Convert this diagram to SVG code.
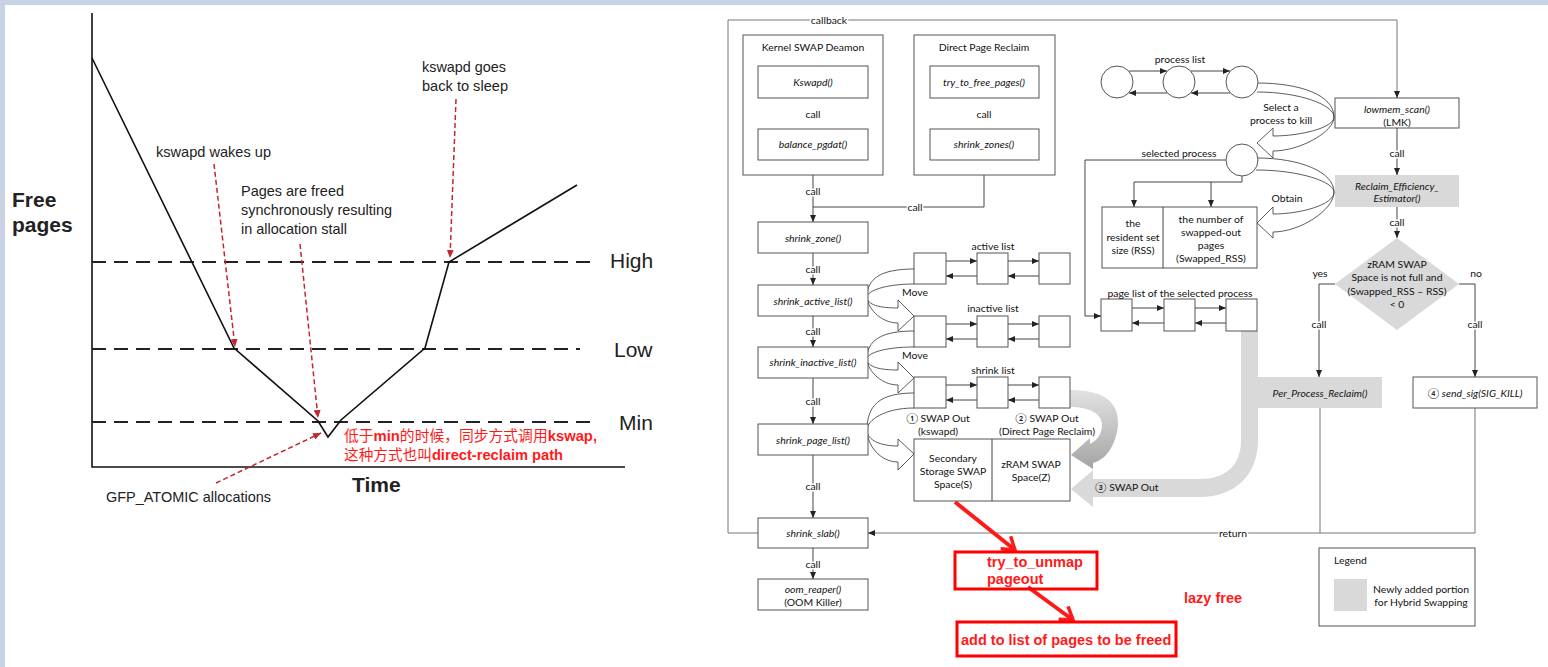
<svg xmlns="http://www.w3.org/2000/svg" width="1548" height="667" viewBox="0 0 1548 667">
<defs>
<style>
.ax{stroke:#111;stroke-width:1.6;fill:none}
.dash{stroke:#222;stroke-width:2;stroke-dasharray:14 8;fill:none}
.rd{stroke:#c0282e;stroke-width:1.5;stroke-dasharray:5 3;fill:none}
.lt{font-family:"Liberation Sans",Arial,sans-serif;fill:#222}
.box{fill:#fff;stroke:#555;stroke-width:1}
.gbox{fill:#d9d9d9}
.ln{stroke:#444;stroke-width:1;fill:none}
.gl{stroke:#777;stroke-width:1;fill:none}
.bl{fill:none;stroke:#333;stroke-width:0.8}
.t{font-family:Lato,"DejaVu Sans",sans-serif;font-size:10.4px;fill:#111;text-anchor:middle}
.s{text-anchor:start}
.i{font-style:italic}
.halo{stroke:#fff;stroke-width:3;paint-order:stroke;stroke-linejoin:round}
.red{font-family:"Liberation Sans",Arial,sans-serif;font-weight:bold;font-size:14.5px;fill:#ff1a1a}
.rb{fill:none;stroke:#ff0000;stroke-width:3}
.ra{stroke:#ff1a1a;stroke-width:4;fill:none}
</style>
<marker id="ah" markerWidth="7" markerHeight="6" refX="7" refY="3" orient="auto" markerUnits="userSpaceOnUse"><path d="M0,0 L7,3 L0,6 z" fill="#222"/></marker>
<marker id="rah" markerWidth="8" markerHeight="7" refX="8" refY="3.5" orient="auto" markerUnits="userSpaceOnUse"><path d="M0,0 L8,3.5 L0,7 z" fill="#c0282e"/></marker>
<marker id="rch" markerWidth="16" markerHeight="18" refX="14" refY="9" orient="auto" markerUnits="userSpaceOnUse"><path d="M2,1 L14,9 L2,17" fill="none" stroke="#ff1a1a" stroke-width="3.5"/></marker>
<linearGradient id="gg" x1="0" y1="0" x2="0" y2="1"><stop offset="0" stop-color="#e2e2e2"/><stop offset="1" stop-color="#a4a4a4"/></linearGradient>
</defs>
<rect x="0" y="0" width="1548" height="667" fill="#fff"/>
<rect x="0" y="0" width="1548" height="5" fill="#c8d2e2"/>
<rect x="0" y="0" width="5" height="667" fill="#c8d2e2"/>

<!-- LEFT CHART -->
<g id="chart">
<path class="ax" d="M92,13 L92,467 L625,467"/>
<path class="dash" d="M92,262 L590,262"/>
<path class="dash" d="M92,349 L580,349"/>
<path class="dash" d="M92,422 L590,422"/>
<path d="M92,58 L234,348 L318,421 L328,437 L341,420 L425,348 L449,262 L577,185" fill="none" stroke="#111" stroke-width="1.6"/>
<path class="rd" d="M214,164 L235,347" marker-end="url(#rah)"/>
<path class="rd" d="M300,244 L318,418" marker-end="url(#rah)"/>
<path class="rd" d="M456,99 L450,258" marker-end="url(#rah)"/>
<path class="rd" d="M216,483 L321,433" marker-end="url(#rah)"/>
<text class="lt" x="12" y="207" font-size="21" font-weight="bold" fill="#111">Free</text>
<text class="lt" x="12" y="232" font-size="21" font-weight="bold" fill="#111">pages</text>
<text class="lt" x="352" y="492" font-size="21" font-weight="bold" fill="#111">Time</text>
<text class="lt" x="610" y="268" font-size="21">High</text>
<text class="lt" x="614" y="357" font-size="21">Low</text>
<text class="lt" x="619" y="430" font-size="21">Min</text>
<text class="lt" x="156" y="157" font-size="15" textLength="115" lengthAdjust="spacingAndGlyphs">kswapd wakes up</text>
<text class="lt" x="422" y="72" font-size="15" textLength="84" lengthAdjust="spacingAndGlyphs">kswapd goes</text>
<text class="lt" x="422" y="91" font-size="15" textLength="86" lengthAdjust="spacingAndGlyphs">back to sleep</text>
<text class="lt" x="241" y="196" font-size="15" textLength="103" lengthAdjust="spacingAndGlyphs">Pages are freed</text>
<text class="lt" x="241" y="215" font-size="15" textLength="151" lengthAdjust="spacingAndGlyphs">synchronously resulting</text>
<text class="lt" x="241" y="234" font-size="15" textLength="106" lengthAdjust="spacingAndGlyphs">in allocation stall</text>
<text class="lt" x="106" y="502" font-size="15" textLength="165" lengthAdjust="spacingAndGlyphs">GFP_ATOMIC allocations</text>
<text x="344" y="441" font-size="15" fill="#ff1a1a" font-family="'Liberation Sans','Noto Sans CJK SC',sans-serif" textLength="253" lengthAdjust="spacingAndGlyphs">低于<tspan font-weight="bold">min</tspan>的时候，同步方式调用<tspan font-weight="bold">kswap,</tspan></text>
<text x="344" y="460" font-size="15" fill="#ff1a1a" font-family="'Liberation Sans','Noto Sans CJK SC',sans-serif" textLength="219" lengthAdjust="spacingAndGlyphs">这种方式也叫<tspan font-weight="bold">direct-reclaim path</tspan></text>
</g>

<!-- RIGHT DIAGRAM: connectors -->
<g id="connectors">
<path class="gl" d="M758,533 L728,533 L728,20 L1397,20 L1397,98" marker-end="url(#ah)"/>
<path class="ln" d="M813,98 L813,129" marker-end="url(#ah)"/>
<path class="ln" d="M984,98 L984,129" marker-end="url(#ah)"/>
<path class="ln" d="M813,160 L813,222" marker-end="url(#ah)"/>
<path class="ln" d="M984,160 L984,207 L813,207"/>
<path class="ln" d="M813,253 L813,285" marker-end="url(#ah)"/>
<path class="ln" d="M813,316 L813,347" marker-end="url(#ah)"/>
<path class="ln" d="M813,378 L813,424" marker-end="url(#ah)"/>
<path class="ln" d="M813,455 L813,518" marker-end="url(#ah)"/>
<path class="ln" d="M813,548 L813,579" marker-end="url(#ah)"/>
<!-- lists -->
<path class="ln" d="M946,261 L977,261" marker-end="url(#ah)"/>
<path class="ln" d="M1008,261 L1039,261" marker-end="url(#ah)"/>
<path class="ln" d="M977,276 L946,276" marker-end="url(#ah)"/>
<path class="ln" d="M1039,276 L1008,276" marker-end="url(#ah)"/>
<path class="ln" d="M946,324 L977,324" marker-end="url(#ah)"/>
<path class="ln" d="M1008,324 L1039,324" marker-end="url(#ah)"/>
<path class="ln" d="M977,339 L946,339" marker-end="url(#ah)"/>
<path class="ln" d="M1039,339 L1008,339" marker-end="url(#ah)"/>
<path class="ln" d="M946,385 L977,385" marker-end="url(#ah)"/>
<path class="ln" d="M1008,385 L1039,385" marker-end="url(#ah)"/>
<path class="ln" d="M977,400 L946,400" marker-end="url(#ah)"/>
<path class="ln" d="M1039,400 L1008,400" marker-end="url(#ah)"/>
<!-- process list -->
<path class="ln" d="M1129,71 L1167,71" marker-end="url(#ah)"/>
<path class="ln" d="M1191,71 L1230,71" marker-end="url(#ah)"/>
<path class="ln" d="M1167,93 L1129,93" marker-end="url(#ah)"/>
<path class="ln" d="M1230,93 L1191,93" marker-end="url(#ah)"/>
<path class="ln" d="M1226,160 L1085,160 L1085,316 L1101,316" marker-end="url(#ah)"/>
<path class="ln" d="M1242,176 L1242,182 L1134,182 L1134,207" marker-end="url(#ah)"/>
<path class="ln" d="M1211,182 L1211,207" marker-end="url(#ah)"/>
<path class="ln" d="M1132,308 L1164,308" marker-end="url(#ah)"/>
<path class="ln" d="M1195,308 L1226,308" marker-end="url(#ah)"/>
<path class="ln" d="M1164,323 L1132,323" marker-end="url(#ah)"/>
<path class="ln" d="M1226,323 L1195,323" marker-end="url(#ah)"/>
<!-- LMK side -->
<path class="ln" d="M1397,128 L1397,175" marker-end="url(#ah)"/>
<path class="ln" d="M1397,207 L1397,238" marker-end="url(#ah)"/>
<path class="ln" d="M1335,284 L1319,284 L1319,377" marker-end="url(#ah)"/>
<path class="ln" d="M1459,284 L1475,284 L1475,377" marker-end="url(#ah)"/>
<path class="gl" d="M1475,408 L1475,533 L868,533" marker-end="url(#ah)"/>
<path class="gl" d="M1320,408 L1320,533"/>
<!-- curved block arrows -->
<path class="bl" d="M914,269 C880,269 867,279 867,297 C867,305 880,308 898,308 L898,300 L914,316 L898,331 L898,323 C880,323 867,307 867,297 C867,291 885,284 914,284"/>
<path class="bl" d="M914,331 C880,331 867,341 867,359 C867,367 880,370 898,370 L898,362 L914,378 L898,393 L898,385 C880,385 867,369 867,359 C867,353 885,347 914,347"/>
<path class="bl" d="M914,393 C880,393 867,405 867,430 C867,440 880,446 898,446 L898,439 L914,454 L898,470 L898,462 C880,462 867,445 867,430 C867,420 885,408 914,408"/>
<path class="bl" d="M1257,83 C1300,83 1334,95 1334,117 C1334,128 1300,136 1273,136 L1273,128 L1257,143 L1273,158 L1273,151 C1300,151 1334,132 1334,117 C1334,105 1300,92 1257,92"/>
<path class="bl" d="M1257,158 C1300,158 1334,172 1334,192 C1334,205 1300,214 1273,214 L1273,207 L1257,223 L1273,238 L1273,232 C1300,232 1334,210 1334,192 C1334,182 1300,170 1256,170"/>
<!-- grey swap arrows -->
<path fill="url(#gg)" d="M1070,390 C1108,390 1119,405 1118,425 C1116,445 1106,460 1093,463 L1093,469 L1071,455 L1090,438 L1090,444 C1098,440 1102,433 1102,425 C1102,414 1090,407 1070,407 Z"/>
<path fill="#d9d9d9" d="M1241,331 L1241,440 C1241,466 1225,479 1200,479 L1093,479 L1093,470 L1071,489 L1093,507 L1093,497 L1200,497 C1235,497 1258,475 1258,440 L1258,331 Z"/>
<!-- red annotation arrows -->
<path class="ra" d="M955,502 L1015,550" marker-end="url(#rch)"/>
<path class="ra" d="M1028,587 L1073,620" marker-end="url(#rch)"/>
</g>

<g id="n-kswapd-group"><rect class="box" x="743" y="35" width="140" height="140"/><text class="t" x="813" y="50.5">Kernel SWAP Deamon</text></g>
<g id="n-direct-group"><rect class="box" x="914" y="35" width="141" height="140"/><text class="t" x="984" y="50.5">Direct Page Reclaim</text></g>
<g id="n-kswapd"><rect class="box" x="758" y="66" width="110" height="32"/><text class="t i" x="813" y="86">Kswapd()</text></g>
<g id="n-balance"><rect class="box" x="758" y="129" width="110" height="31"/><text class="t i" x="813" y="148">balance_pgdat()</text></g>
<g id="n-tryfree"><rect class="box" x="930" y="66" width="109" height="32"/><text class="t i" x="984" y="86">try_to_free_pages()</text></g>
<g id="n-shrinkzones"><rect class="box" x="930" y="129" width="109" height="31"/><text class="t i" x="984" y="148">shrink_zones()</text></g>
<g id="n-shrinkzone"><rect class="box" x="758" y="222" width="110" height="31"/><text class="t i" x="813" y="241.5">shrink_zone()</text></g>
<g id="n-active"><rect class="box" x="758" y="285" width="110" height="31"/><text class="t i" x="813" y="304.5">shrink_active_list()</text></g>
<g id="n-inactive"><rect class="box" x="758" y="347" width="110" height="31"/><text class="t i" x="813" y="366">shrink_inactive_list()</text></g>
<g id="n-pagelist"><rect class="box" x="758" y="424" width="110" height="31"/><text class="t i" x="813" y="443.5">shrink_page_list()</text></g>
<g id="n-slab"><rect class="box" x="758" y="518" width="110" height="30"/><text class="t i" x="813" y="537">shrink_slab()</text></g>
<g id="n-oom"><rect class="box" x="758" y="579" width="110" height="31"/><text class="t i" x="813" y="593">oom_reaper()</text><text class="t" x="813" y="606">(OOM Killer)</text></g>

<g id="n-activelist"><rect class="box" x="914" y="253" width="32" height="31"/><rect class="box" x="977" y="253" width="31" height="31"/><rect class="box" x="1039" y="253" width="31" height="31"/><text class="t" x="993" y="249.5">active list</text></g>
<g id="n-inactivelist"><rect class="box" x="914" y="316" width="32" height="31"/><rect class="box" x="977" y="316" width="31" height="31"/><rect class="box" x="1039" y="316" width="31" height="31"/><text class="t" x="993" y="311.5">inactive list</text></g>
<g id="n-shrinklist"><rect class="box" x="914" y="377" width="32" height="31"/><rect class="box" x="977" y="377" width="31" height="31"/><rect class="box" x="1039" y="377" width="31" height="31"/><text class="t" x="993" y="373.5">shrink list</text></g>
<g id="n-swapspace"><rect class="box" x="914" y="439" width="156" height="62"/><path class="ln" d="M992,439 L992,501"/>
<text class="t" x="953" y="462">Secondary</text><text class="t" x="953" y="475">Storage SWAP</text><text class="t" x="953" y="488">Space(S)</text>
<text class="t" x="1031" y="468">zRAM SWAP</text><text class="t" x="1031" y="481">Space(Z)</text></g>

<g id="n-proclist"><circle class="box" cx="1117" cy="82" r="16"/><circle class="box" cx="1179" cy="82" r="16"/><circle class="box" cx="1242" cy="82" r="16"/><text class="t" x="1180" y="62.5">process list</text></g>
<g id="n-selected"><circle class="box" cx="1242" cy="160" r="16"/></g>
<g id="n-rss"><rect class="box" x="1102" y="207" width="155" height="61"/><path class="ln" d="M1163,207 L1163,268"/>
<text class="t" x="1133" y="227">the</text><text class="t" x="1133" y="241">resident set</text><text class="t" x="1133" y="254">size (RSS)</text>
<text class="t" x="1211" y="222.5">the number of</text><text class="t" x="1211" y="235.5">swapped-out</text><text class="t" x="1211" y="248.5">pages</text><text class="t" x="1211" y="261.5">(Swapped_RSS)</text></g>
<g id="n-pagelist-sel"><rect class="box" x="1101" y="299" width="31" height="32"/><rect class="box" x="1164" y="299" width="31" height="32"/><rect class="box" x="1226" y="299" width="31" height="32"/><text class="t" x="1180" y="296.5">page list of the selected process</text></g>
<g id="n-lowmem"><rect class="box" x="1335" y="98" width="124" height="30"/><text class="t i" x="1397" y="112.5">lowmem_scan()</text><text class="t" x="1397" y="125.5">(LMK)</text></g>
<g id="n-ree"><rect class="gbox" x="1335" y="175" width="124" height="32"/><text class="t i" x="1397" y="189.5">Reclaim_Efficiency_</text><text class="t i" x="1397" y="202">Estimator()</text></g>
<g id="n-diamond"><path class="gbox" d="M1397,238 L1459,284 L1397,330 L1335,284 Z"/>
<text class="t" x="1397" y="268">zRAM SWAP</text><text class="t" x="1397" y="281">Space is not full and</text><text class="t" x="1397" y="294.5">(Swapped_RSS – RSS)</text><text class="t" x="1397" y="308">&lt; 0</text></g>
<g id="n-ppr"><rect class="gbox" x="1257" y="377" width="125" height="31"/><text class="t i" x="1320" y="396.5">Per_Process_Reclaim()</text></g>
<g id="n-sendsig"><rect class="box" x="1413" y="377" width="124" height="31"/><text class="t" x="1475" y="396.5">④ <tspan font-style="italic">send_sig(SIG_KILL)</tspan></text></g>
<g id="n-legend"><rect class="box" x="1319" y="548" width="156" height="78"/><text class="t s" x="1334" y="563.5">Legend</text><rect class="gbox" x="1334" y="579" width="33" height="32"/><text class="t" x="1421" y="592.5">Newly added portion</text><text class="t" x="1421" y="605.5">for Hybrid Swapping</text></g>

<g id="labels">
<text class="t halo" x="829" y="24">callback</text>
<text class="t halo" x="813" y="117.5">call</text>
<text class="t halo" x="984" y="117.5">call</text>
<text class="t halo" x="813" y="195">call</text>
<text class="t halo" x="915" y="210.5">call</text>
<text class="t halo" x="813" y="272.5">call</text>
<text class="t halo" x="813" y="334.5">call</text>
<text class="t halo" x="813" y="404.5">call</text>
<text class="t halo" x="813" y="490">call</text>
<text class="t halo" x="813" y="568">call</text>
<text class="t" x="915" y="295.5">Move</text>
<text class="t" x="915" y="358.5">Move</text>
<text class="t" x="938" y="421.5">① SWAP Out</text>
<text class="t" x="938" y="434.5">(kswapd)</text>
<text class="t" x="1047" y="421.5">② SWAP Out</text>
<text class="t" x="1047" y="434.5">(Direct Page Reclaim)</text>
<text class="t s" x="1095" y="490.5">③ SWAP Out</text>
<text class="t" x="1281" y="110.5">Select a</text>
<text class="t" x="1281" y="123.5">process to kill</text>
<text class="t" x="1179" y="156.5">selected process</text>
<text class="t" x="1287" y="201.5">Obtain</text>
<text class="t halo" x="1397" y="156.5">call</text>
<text class="t halo" x="1397" y="225.5">call</text>
<text class="t" x="1320" y="276.5">yes</text>
<text class="t" x="1476" y="276.5">no</text>
<text class="t halo" x="1319" y="327.5">call</text>
<text class="t halo" x="1475" y="327.5">call</text>
<text class="t halo" x="1233" y="536.5">return</text>
</g>

<g id="red-notes">
<rect class="rb" x="955" y="552" width="142" height="37"/>
<text class="red" x="987" y="567">try_to_unmap</text>
<text class="red" x="987" y="584">pageout</text>
<rect class="rb" x="957" y="622" width="219" height="34"/>
<text class="red" x="961" y="645">add to list of pages to be freed</text>
<text class="red" x="1184" y="603">lazy free</text>
</g>
</svg>
